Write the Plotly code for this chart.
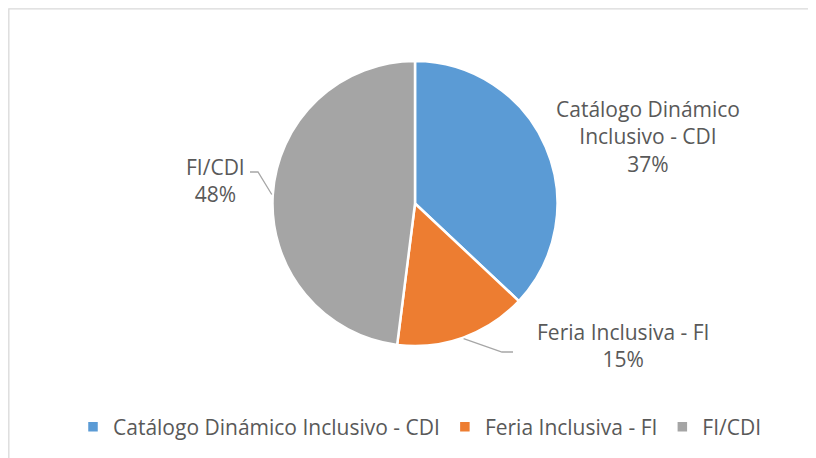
import math
import plotly.graph_objects as go

categories = ["Catálogo Dinámico Inclusivo - CDI", "Feria Inclusiva - FI", "FI/CDI"]
values = [37, 15, 48]
label_lines = ["Catálogo Dinámico<br>Inclusivo - CDI", "Feria Inclusiva - FI", "FI/CDI"]
colors = ["#5B9BD5", "#ED7D31", "#A5A5A5"]

W, H = 816, 458
OFF = 8  # page body margin
cx, cy, R = 415 - OFF, 203.5 - OFF, 142.5  # pie center/radius in figure pixels


def px(x):
    return x / W


def py(y):
    return 1 - y / H


# label anchor positions (figure pixels) and leader-line elbows
label_pos = [(648 - OFF, 136 - OFF), (623 - OFF, 345 - OFF), (215 - OFF, 180 - OFF)]
elbows = [None,
          ((502 - OFF, 352 - OFF), (513 - OFF, 352 - OFF)),
          ((258 - OFF, 172 - OFF), (250 - OFF, 172 - OFF))]

fig = go.Figure(go.Pie(
    labels=categories, values=values, sort=False, direction="clockwise", rotation=0,
    marker=dict(colors=colors, line=dict(color="white", width=2.5)),
    textinfo="none", hoverinfo="label+percent",
    domain=dict(x=[px(cx - R), px(cx + R)], y=[py(cy + R), py(cy - R)]),
))

total = sum(values)
cum = 0
annotations = []
shapes = []
font = dict(family="Open Sans, sans-serif", size=21, color="#595959")
for i, v in enumerate(values):
    mid = (cum + v / 2) / total * 2 * math.pi
    cum += v
    pct = round(v / total * 100)
    lx, ly = label_pos[i]
    annotations.append(dict(
        x=px(lx), y=py(ly), xref="paper", yref="paper", showarrow=False,
        text=f"{label_lines[i]}<br>{pct}%", font=font, align="center",
        xanchor="center", yanchor="middle",
    ))
    if elbows[i]:
        ex = cx + (R + 1) * math.sin(mid)
        ey = cy - (R + 1) * math.cos(mid)
        (bx, by), (tx, ty) = elbows[i]
        path = f"M {px(ex)},{py(ey)} L {px(bx)},{py(by)} L {px(tx)},{py(ty)}"
        shapes.append(dict(type="path", xref="paper", yref="paper", path=path,
                           line=dict(color="#A6A6A6", width=1.3)))

# chart border
shapes.append(dict(type="rect", xref="paper", yref="paper",
                   x0=0.001, x1=1.05, y0=-0.05, y1=0.998,
                   line=dict(color="#D9D9D9", width=1.3), fillcolor="rgba(0,0,0,0)"))

fig.update_layout(
    width=W, height=H, margin=dict(l=0, r=0, t=0, b=0),
    paper_bgcolor="white", plot_bgcolor="white",
    annotations=annotations, shapes=shapes,
    showlegend=True,
    legend=dict(orientation="h", x=px(412), xanchor="center", y=py(419), yanchor="middle",
                font=font, itemwidth=30, traceorder="normal"),
)

fig.write_html("out.html")
